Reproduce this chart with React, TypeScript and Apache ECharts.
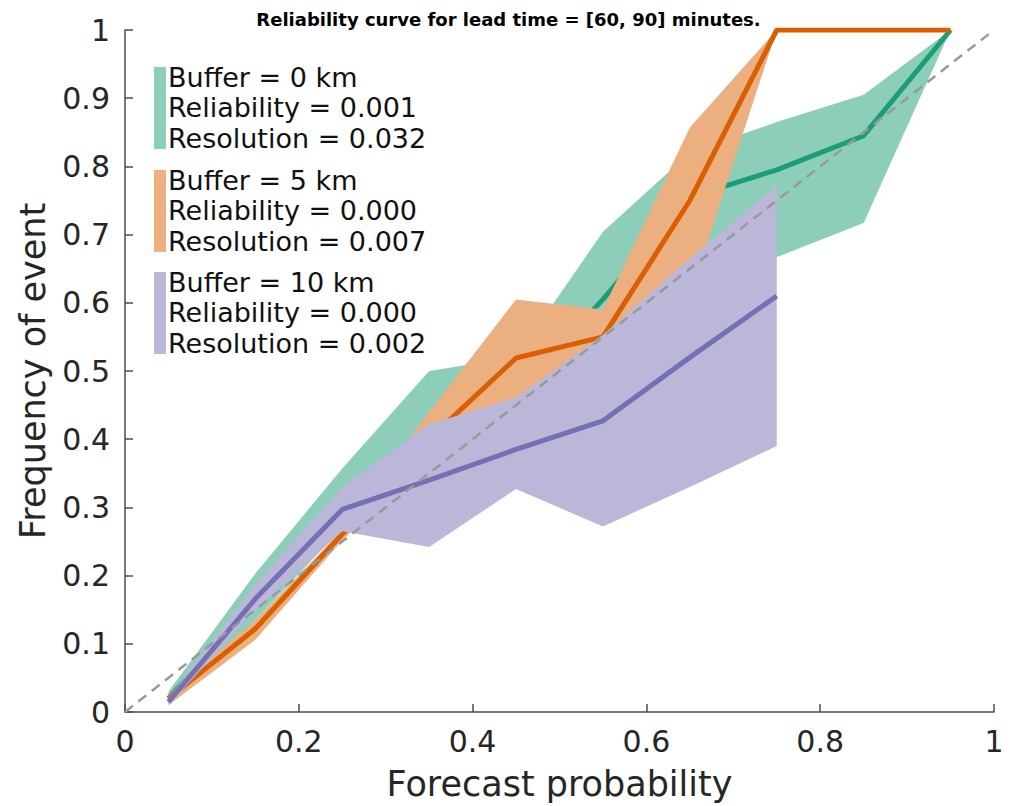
import React, { useEffect, useRef } from "react";
import * as echarts from "echarts";

// Forecast probability bin centres
const xs0 = [0.05, 0.15, 0.25, 0.35, 0.45, 0.55, 0.65, 0.75, 0.85, 0.95];
const xs10 = [0.05, 0.15, 0.25, 0.35, 0.45, 0.55, 0.65, 0.75];

// Buffer = 0 km
const line0 = [0.02, 0.16, 0.29, 0.38, 0.47, 0.605, 0.755, 0.795, 0.845, 1.0];
const upper0 = [0.03, 0.203, 0.357, 0.5, 0.52, 0.704, 0.82, 0.865, 0.905, 1.0];
const lower0 = [0.015, 0.135, 0.27, 0.33, 0.42, 0.5, 0.63, 0.667, 0.717, 1.0];

// Buffer = 5 km
const line5 = [0.02, 0.122, 0.261, 0.4, 0.519, 0.55, 0.75, 1.0, 1.0, 1.0];
const upper5 = [0.025, 0.135, 0.267, 0.44, 0.605, 0.59, 0.857, 1.0, 1.0, 1.0];
const lower5 = [0.01, 0.106, 0.252, 0.37, 0.461, 0.52, 0.61, 1.0, 1.0, 1.0];

// Buffer = 10 km
const line10 = [0.015, 0.166, 0.297, 0.34, 0.385, 0.427, 0.52, 0.61];
const upper10 = [0.02, 0.187, 0.33, 0.422, 0.461, 0.553, 0.665, 0.772];
const lower10 = [0.01, 0.15, 0.265, 0.242, 0.327, 0.272, 0.33, 0.39];

const legendLines = [
  ["Buffer = 0 km", "Reliability = 0.001", "Resolution = 0.032"],
  ["Buffer = 5 km", "Reliability = 0.000", "Resolution = 0.007"],
  ["Buffer = 10 km", "Reliability = 0.000", "Resolution = 0.002"],
];

const lineColors = ["#1b9e77", "#d95f02", "#7570b3"];
const bandColors = ["#8dcebb", "#ecaf80", "#bab7d9"];

const diagX = [0, 1];
const diagY = [0, 1];

const FONT = "DejaVu Sans";

function bandSeries(xs: number[], upper: number[], lower: number[], color: string, z: number) {
  return {
    type: "custom",
    clip: false,
    silent: true,
    z,
    data: [[xs[0], lower[0]]],
    renderItem: (_params: any, api: any) => {
      const top = xs.map((x, i) => api.coord([x, upper[i]]));
      const bot = xs.map((x, i) => api.coord([x, lower[i]])).reverse();
      return {
        type: "polygon",
        shape: { points: top.concat(bot) },
        style: { fill: color, stroke: null },
      };
    },
  };
}

function lineSeries(xs: number[], ys: number[], color: string, z: number) {
  return {
    type: "line",
    z,
    data: xs.map((x, i) => [x, ys[i]]),
    showSymbol: false,
    symbol: "none",
    lineStyle: { color, width: 5 },
    silent: true,
  };
}

export default function App() {
  const ref = useRef<HTMLDivElement>(null);
  useEffect(() => {
    if (!ref.current) return;
    const chart = echarts.init(ref.current, null, { renderer: "svg" });

    const legendTop = [67, 170, 272];
    const lineOffsets = [10, 40.5, 71];
    const graphics: any[] = [];
    legendLines.forEach((lines, k) => {
      graphics.push({
        type: "rect",
        shape: { x: 154, y: legendTop[k], width: 12, height: 82 },
        style: { fill: bandColors[k] },
      });
      lines.forEach((t, j) => {
        graphics.push({
          type: "text",
          x: 168,
          y: legendTop[k] + lineOffsets[j],
          style: {
            text: t,
            fill: "#111",
            font: `27px "${FONT}"`,
            verticalAlign: "middle",
            align: "left",
          },
        });
      });
    });

    const axisCommon = {
      type: "value",
      min: 0,
      max: 1,
      nameLocation: "middle",
      nameTextStyle: { fontFamily: FONT, fontSize: 35, color: "#262626" },
      axisLine: { show: true, lineStyle: { color: "#4d4d4d", width: 1.5 } },
      axisTick: { show: true, inside: true, length: 8, lineStyle: { color: "#4d4d4d", width: 1.5 } },
      splitLine: { show: false },
      axisLabel: {
        fontFamily: FONT,
        fontSize: 30,
        color: "#262626",
        formatter: (v: number) => (v === 0 ? "0" : v === 1 ? "1" : String(Math.round(v * 10) / 10)),
      },
    };

    chart.setOption({
      animation: false,
      backgroundColor: "#ffffff",
      title: {
        text: "Reliability curve for lead time = [60, 90] minutes.",
        left: "center",
        top: 5,
        textStyle: { fontFamily: FONT, fontSize: 18, fontWeight: "bold", color: "#000" },
      },
      grid: { left: 125, right: 23, top: 30, bottom: 90, containLabel: false },
      xAxis: {
        ...axisCommon,
        interval: 0.2,
        name: "Forecast probability",
        nameGap: 54,
        axisLabel: { ...axisCommon.axisLabel, margin: 14 },
      },
      yAxis: {
        ...axisCommon,
        interval: 0.1,
        name: "Frequency of event",
        nameGap: 75,
        axisLabel: { ...axisCommon.axisLabel, margin: 15 },
      },
      graphic: graphics,
      series: [
        bandSeries(xs0, upper0, lower0, bandColors[0], 1),
        lineSeries(xs0, line0, lineColors[0], 2),
        bandSeries(xs0, upper5, lower5, bandColors[1], 3),
        lineSeries(xs0, line5, lineColors[1], 4),
        bandSeries(xs10, upper10, lower10, bandColors[2], 5),
        lineSeries(xs10, line10, lineColors[2], 6),
        {
          type: "line",
          z: 7,
          data: diagX.map((x, i) => [x, diagY[i]]),
          showSymbol: false,
          symbol: "none",
          silent: true,
          lineStyle: { color: "#999999", width: 2.5, type: [10, 7] },
        },
      ],
    });
    return () => chart.dispose();
  }, []);
  return (
    <div
      ref={ref}
      style={{ position: "fixed", left: 0, top: 0, width: 1017, height: 806, background: "#fff" }}
    />
  );
}
